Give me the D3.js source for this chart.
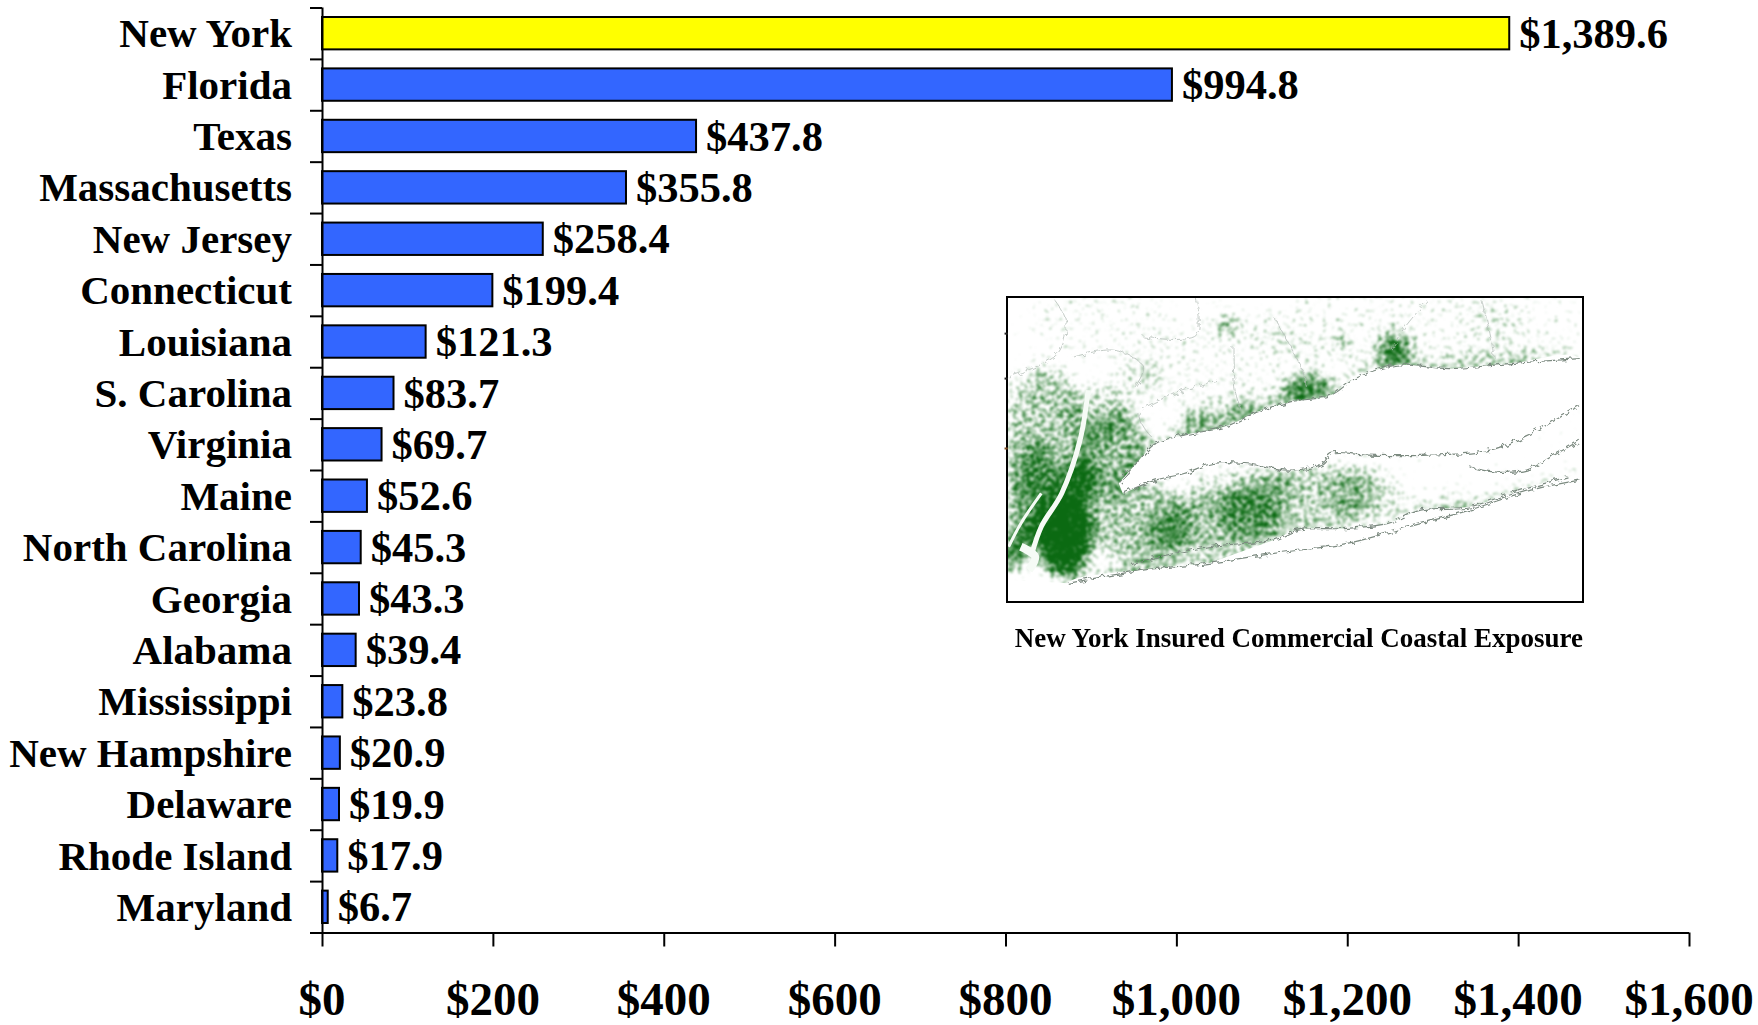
<!DOCTYPE html>
<html>
<head>
<meta charset="utf-8">
<script src="https://cdn.jsdelivr.net/npm/d3@7"></script>
<style>
  html, body { margin: 0; background: #fff; }
  svg { display: block; }
  text { font-family: "Liberation Serif", serif; font-weight: bold; fill: #000; }
</style>
</head>
<body>
<div id="chart"></div>
<script>
// exposure by state, $ billions
const states = ['New York', 'Florida', 'Texas', 'Massachusetts', 'New Jersey', 'Connecticut',
  'Louisiana', 'S. Carolina', 'Virginia', 'Maine', 'North Carolina', 'Georgia', 'Alabama',
  'Mississippi', 'New Hampshire', 'Delaware', 'Rhode Island', 'Maryland'];
const exposure = [1389.6, 994.8, 437.8, 355.8, 258.4, 199.4, 121.3, 83.7, 69.7, 52.6, 45.3,
  43.3, 39.4, 23.8, 20.9, 19.9, 17.9, 6.7];
const xTicks = [0, 200, 400, 600, 800, 1000, 1200, 1400, 1600];
const insetTitle = 'New York Insured Commercial Coastal Exposure';

// inset map, traced in picture units
const coastNorth = [[340,610],[390,540],[430,490],[500,465],[600,440],[680,395],[760,365],[860,345],[920,295],[1020,255],[1150,265],[1300,250],[1470,235]];
const coastIsland = [[350,640],[430,600],[500,580],[570,550],[650,550],[760,570],[840,550],[860,520],[950,525],[1100,525],[1250,510],[1350,460],[1470,375]];
const coastSouth = [[215,910],[400,870],[560,850],[720,820],[900,790],[1050,740],[1200,690],[1350,630],[1470,600]];
const coastInner = [[370,850],[560,800],[720,780],[780,750],[900,745],[1000,730],[1080,690],[1200,680],[1300,640],[1440,590]];
const peconic = [[1200,560],[1260,575],[1340,570],[1400,530],[1470,480]];
const borders = [
  [[70,290],[190,220],[210,120],[180,55]],
  [[530,55],[530,165],[400,170]],
  [[580,300],[390,400],[420,470]],
  [[720,110],[790,270],[800,320]],
  [[1100,55],[1030,160],[1010,210]],
  [[620,200],[625,330],[640,390]],
  [[230,230],[330,210],[400,260],[380,320]],
  [[1230,60],[1250,160],[1260,230]]
];
const hudson = [[265,330],[245,480],[200,640],[150,740],[125,830]];
const kill = [[70,800],[100,730],[150,640]];
const upperBay = [[100,800],[135,830],[120,870]];
// cx, cy, rx, ry, rotation, density
const blobs = [
  [160,480,105,190,0,.4],[120,660,60,150,12,.45],[320,520,85,120,25,.45],[290,400,80,80,0,.28],
  [230,640,50,90,25,.72],[210,770,70,100,8,.9],[205,790,45,60,0,.6],[105,770,20,110,38,.72],
  [90,850,30,35,0,.4],[400,730,120,110,0,.42],[580,730,170,75,-8,.42],[780,670,200,95,-10,.36],
  [950,640,100,75,0,.24],[1100,680,100,35,-10,.2],[640,620,140,55,0,.26],
  [540,430,55,40,0,.42],[640,390,50,30,0,.38],[800,325,60,32,-10,.68],[1015,210,40,45,0,.72],
  [605,130,28,26,0,.55],[890,190,20,28,0,.42],[380,290,70,60,0,.2],[1300,240,180,16,0,.24],
  [620,270,240,130,0,.14],[1000,140,340,100,0,.13],[290,120,180,90,0,.13],[1330,120,150,90,0,.11],
  [1200,680,130,22,-15,.18]
];
const ticksOnFrame = [160, 295, 505];

const W = 1758, H = 1025;
const plotLeft = 322, plotRight = 1689, plotTop = 7.5, plotBottom = 932.5;

const svg = d3.select('#chart').append('svg').attr('width', W).attr('height', H);

const x = d3.scaleLinear().domain([0, 1600]).range([plotLeft, plotRight]);
const y = d3.scaleBand().domain(states).range([plotTop, plotBottom]).paddingInner(0.37).paddingOuter(0.185);
const yEdges = d3.scaleLinear().domain([0, states.length]).range([plotTop, plotBottom]);

// bars
svg.append('g').selectAll('rect')
  .data(states)
  .enter()
  .append('rect')
  .attr('x', plotLeft)
  .attr('y', d => y(d))
  .attr('width', (d, i) => x(exposure[i]) - plotLeft)
  .attr('height', y.bandwidth())
  .attr('fill', (d, i) => i === 0 ? '#FFFF00' : '#3366FF')
  .attr('stroke', '#000')
  .attr('stroke-width', 2);

// axes
const yAxis = d3.axisLeft(yEdges).ticks(states.length).tickSize(12).tickFormat('');
const xAxis = d3.axisBottom(x).tickValues(xTicks).tickSize(14).tickFormat('');
const gy = svg.append('g').attr('transform', `translate(${plotLeft},0)`).call(yAxis);
const gx = svg.append('g').attr('transform', `translate(0,${plotBottom})`).call(xAxis);
gy.selectAll('path').attr('d', `M0.5,${plotTop}V${plotBottom}`);
gx.selectAll('path').attr('d', `M${plotLeft - 12},0.5H${plotRight}`);
[gy, gx].forEach(g => g.selectAll('path, line').attr('stroke', '#000').attr('stroke-width', 2));

// category labels
svg.append('g').selectAll('text')
  .data(states)
  .enter()
  .append('text')
  .attr('x', 292)
  .attr('y', d => y(d) + y.bandwidth() / 2 + 1)
  .attr('dy', '0.32em')
  .attr('text-anchor', 'end')
  .attr('font-size', 41)
  .text(d => d);

// value labels
svg.append('g').selectAll('text')
  .data(exposure)
  .enter()
  .append('text')
  .attr('x', d => x(d) + 10)
  .attr('y', (d, i) => y(states[i]) + y.bandwidth() / 2 + 1)
  .attr('dy', '0.32em')
  .attr('font-size', 42.5)
  .text(d => '$' + d3.format(',.1f')(d));

// x tick labels
svg.append('g').selectAll('text')
  .data(xTicks)
  .enter()
  .append('text')
  .attr('x', d => x(d))
  .attr('y', 1014.5)
  .attr('text-anchor', 'middle')
  .attr('font-size', 47)
  .text(d => '$' + d3.format(',')(d));

// inset map
const mx = d3.scaleLinear().domain([66, 1478]).range([1007, 1583]);
const my = d3.scaleLinear().domain([50, 966]).range([297, 602]);
const line = d3.line().x(d => mx(d[0])).y(d => my(d[1])).curve(d3.curveCatmullRom);
const mapScale = mx(1) - mx(0);

const defs = svg.append('defs');
defs.append('clipPath').attr('id', 'mapClip').append('rect')
  .attr('x', mx(66)).attr('y', my(50))
  .attr('width', mx(1478) - mx(66)).attr('height', my(966) - my(50));

// density + noise, thresholded softly: sparse areas stay pale, dense areas go solid
const stipple = defs.append('filter').attr('id', 'stipple')
  .attr('filterUnits', 'userSpaceOnUse')
  .attr('x', 1000).attr('y', 290).attr('width', 600).attr('height', 320)
  .attr('color-interpolation-filters', 'sRGB');
stipple.append('feGaussianBlur').attr('in', 'SourceAlpha').attr('stdDeviation', 8).attr('result', 'density');
stipple.append('feTurbulence').attr('type', 'fractalNoise').attr('baseFrequency', 0.22)
  .attr('numOctaves', 3).attr('seed', 11);
stipple.append('feColorMatrix')
  .attr('values', '0 0 0 0 0  0 0 0 0 0  0 0 0 0 0  1 0 0 0 0').attr('result', 'noise');
stipple.append('feComposite').attr('in', 'density').attr('in2', 'noise')
  .attr('operator', 'arithmetic').attr('k1', 0).attr('k2', 1).attr('k3', 1).attr('k4', -0.76);
stipple.append('feColorMatrix')
  .attr('values', '0 0 0 0 0  0 0 0 0 0  0 0 0 0 0  0 0 0 1.9 0').attr('result', 'spots');
stipple.append('feFlood').attr('flood-color', '#0b6a12');
stipple.append('feComposite').attr('in2', 'spots').attr('operator', 'in');
stipple.append('feGaussianBlur').attr('stdDeviation', 0.8);

const rough = defs.append('filter').attr('id', 'rough')
  .attr('filterUnits', 'userSpaceOnUse')
  .attr('x', 1000).attr('y', 290).attr('width', 600).attr('height', 320);
rough.append('feTurbulence').attr('type', 'fractalNoise').attr('baseFrequency', 0.16)
  .attr('numOctaves', 2).attr('seed', 3).attr('result', 'n');
rough.append('feDisplacementMap').attr('in', 'SourceGraphic').attr('in2', 'n').attr('scale', 7);
rough.append('feGaussianBlur').attr('stdDeviation', 0.4);

const map = svg.append('g').attr('clip-path', 'url(#mapClip)');
const blobTransform = d => `translate(${mx(d[0])},${my(d[1])}) rotate(${d[4]})`;

const density = map.append('g').attr('filter', 'url(#stipple)');
density.selectAll('ellipse')
  .data(blobs)
  .enter()
  .append('ellipse')
  .attr('transform', blobTransform)
  .attr('rx', d => d[2] * mapScale)
  .attr('ry', d => d[3] * mapScale)
  .attr('fill', '#000')
  .attr('fill-opacity', d => d[5]);
[coastNorth, coastSouth].forEach(c => {
  density.append('path').attr('d', line(c)).attr('fill', 'none')
    .attr('stroke', '#000').attr('stroke-opacity', 0.4).attr('stroke-width', 14);
});

// Sound and ocean are empty, rivers cut through the green
map.append('path')
  .attr('d', line(coastNorth.concat([[1478,400]], coastIsland.slice().reverse())) + 'Z')
  .attr('fill', '#fff');
map.append('path')
  .attr('d', line(coastInner.slice(2).concat([[1478,590],[1478,966],[215,966],[215,910],[400,870],[560,850]])) + 'Z')
  .attr('fill', '#fff');
map.append('path')
  .attr('d', line(coastSouth.concat([[1478,966],[66,966],[66,900]])) + 'Z')
  .attr('fill', '#fff');
[[hudson, 5], [kill, 3], [upperBay, 8]].forEach(([c, w]) => {
  map.append('path').attr('d', line(c))
    .attr('fill', 'none').attr('stroke', '#f6fbf6').attr('stroke-width', w);
});

const lines = map.append('g').attr('filter', 'url(#rough)').attr('fill', 'none');
[coastNorth, coastIsland, coastSouth, coastInner, peconic].forEach(c => {
  lines.append('path').attr('d', line(c)).attr('stroke', '#7c8a80').attr('stroke-width', 1.2);
});
borders.forEach(c => {
  lines.append('path').attr('d', line(c)).attr('stroke', '#b4beb7').attr('stroke-width', 0.8);
});

svg.append('rect')
  .attr('x', mx(66)).attr('y', my(50))
  .attr('width', mx(1478) - mx(66)).attr('height', my(966) - my(50))
  .attr('fill', 'none').attr('stroke', '#000').attr('stroke-width', 2);

svg.append('g').selectAll('line')
  .data(ticksOnFrame)
  .enter()
  .append('line')
  .attr('x1', mx(60)).attr('x2', mx(68))
  .attr('y1', d => my(d)).attr('y2', d => my(d))
  .attr('stroke', (d, i) => i === 2 ? '#7a4a20' : '#222')
  .attr('stroke-width', 2);

svg.append('text')
  .attr('x', 1583)
  .attr('y', 647)
  .attr('text-anchor', 'end')
  .attr('font-size', 27)
  .text(insetTitle);
</script>
</body>
</html>
